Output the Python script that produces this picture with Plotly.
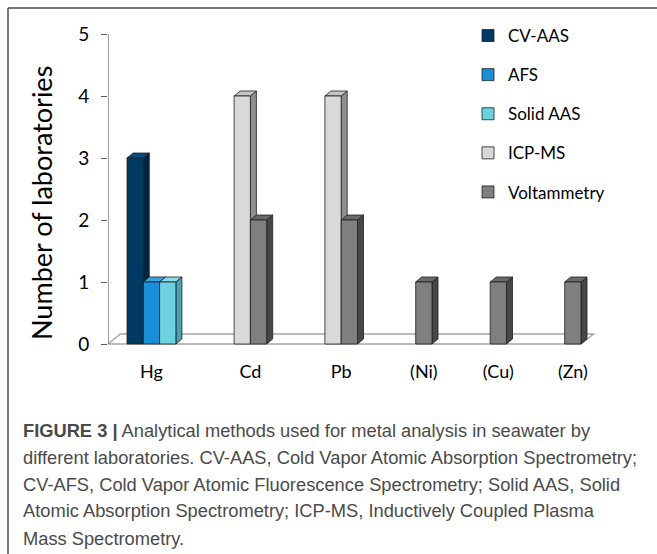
import plotly.graph_objects as go

# ---- data ----
categories = ["Hg", "Cd", "Pb", "(Ni)", "(Cu)", "(Zn)"]
series_names = ["CV-AAS", "AFS", "Solid AAS", "ICP-MS", "Voltammetry"]
cv_aas = [3, 0, 0, 0, 0, 0]
afs = [1, 0, 0, 0, 0, 0]
solid_aas = [1, 0, 0, 0, 0, 0]
icp_ms = [0, 4, 4, 0, 0, 0]
voltammetry = [0, 2, 2, 1, 1, 1]
y_ticks = [0, 1, 2, 3, 4, 5]
caption_lines = [
    "<b>FIGURE 3 |</b> Analytical methods used for metal analysis in seawater by",
    "different laboratories. CV-AAS, Cold Vapor Atomic Absorption Spectrometry;",
    "CV-AFS, Cold Vapor Atomic Fluorescence Spectrometry; Solid AAS, Solid",
    "Atomic Absorption Spectrometry; ICP-MS, Inductively Coupled Plasma",
    "Mass Spectrometry.",
]

series_values = [cv_aas, afs, solid_aas, icp_ms, voltammetry]

# ---- styles ----
front_cols = ["#003a63", "#1a8fd8", "#6dd1df", "#d9d9d9", "#7f7f7f"]
side_cols = ["#00233f", "#11649b", "#48a3b0", "#8f8f8f", "#474747"]
top_cols = ["#0b4a78", "#3aa2e2", "#8adbe6", "#c4c4c4", "#6a6a6a"]
edge = "#1e1e1e"
FONT = "Lato"

W_PX, H_PX = 657, 554
L, R = 108, 600          # plot area px
T, B = 26, 354
Y0PX, Y5PX = 344, 34
ppu_y = (Y0PX - Y5PX) / 5.0
bar_px = 16.3
gap_units = 58.2 / bar_px
lead_units = 19 / bar_px
x_range = [0, (R - L) / bar_px]
y_range = [-(B - Y0PX) / ppu_y, 5 + (Y5PX - T) / ppu_y]

depth_dx = 6 / bar_px
depth_dy = 5 / ppu_y
floor_dx = 12.5 / bar_px
floor_dy = 10 / ppu_y

# layout bars: each present value gets one slot, categories separated by a gap
cursor = lead_units
bar_pos = [[None] * len(categories) for _ in series_names]
centers = []
last_end = 0
for ci in range(len(categories)):
    start = cursor
    for si in range(len(series_names)):
        if series_values[si][ci] > 0:
            bar_pos[si][ci] = cursor + 0.5
            cursor += 1
    centers.append((start + cursor) / 2)
    last_end = cursor
    cursor += gap_units

fig = go.Figure()
shapes = []

# floor
fx = last_end
shapes.append(dict(type="path", xref="x", yref="y", layer="below",
                   path=f"M0,0 L{fx},0 L{fx+floor_dx},{floor_dy} L{floor_dx},{floor_dy} Z",
                   fillcolor="white", line=dict(color="#a6a6a6", width=1.5)))

# 3D faces (ordered left to right)
faces = []
for ci in range(len(categories)):
    for si in range(len(series_names)):
        xc = bar_pos[si][ci]
        if xc is None:
            continue
        v = series_values[si][ci]
        x0, x1 = xc - 0.5, xc + 0.5
        faces.append(dict(type="path", xref="x", yref="y", layer="below",
                          path=f"M{x1},0 L{x1+depth_dx},{depth_dy} L{x1+depth_dx},{v+depth_dy} L{x1},{v} Z",
                          fillcolor=side_cols[si], line=dict(color=edge, width=0.8)))
        faces.append(dict(type="path", xref="x", yref="y", layer="below",
                          path=f"M{x0},{v} L{x0+depth_dx},{v+depth_dy} L{x1+depth_dx},{v+depth_dy} L{x1},{v} Z",
                          fillcolor=top_cols[si], line=dict(color=edge, width=0.8)))
shapes += faces

for si, name in enumerate(series_names):
    xs = [bar_pos[si][ci] for ci in range(len(categories)) if bar_pos[si][ci] is not None]
    ys = [series_values[si][ci] for ci in range(len(categories)) if bar_pos[si][ci] is not None]
    fig.add_trace(go.Bar(x=xs, y=ys, width=1, name=name, legendgroup=name,
                         marker=dict(color=front_cols[si], line=dict(color=edge, width=0.8)),
                         hoverinfo="skip"))

# y axis line
shapes.append(dict(type="line", xref="x", yref="y", x0=0, x1=0, y0=0, y1=5,
                   line=dict(color="#595959", width=1.2)))


def px_x(p):
    return (p - L) / (R - L)


def px_y(p):
    return (B - p) / (B - T)


# frame
shapes.append(dict(type="line", xref="paper", yref="paper", x0=px_x(8), x1=px_x(660),
                   y0=px_y(8), y1=px_y(8), line=dict(color="#4a4a4a", width=1.5)))
shapes.append(dict(type="line", xref="paper", yref="paper", x0=px_x(8), x1=px_x(8),
                   y0=px_y(8), y1=px_y(560), line=dict(color="#4a4a4a", width=1.5)))

annotations = [dict(text="Number of laboratories", textangle=-90, xref="paper", yref="paper",
                    x=px_x(42), y=px_y(203), xanchor="center", yanchor="middle", showarrow=False,
                    font=dict(family=FONT, size=27, color="black"))]
for i, line in enumerate(caption_lines):
    annotations.append(dict(text=line, xref="paper", yref="paper", x=px_x(21), y=px_y(430 + 27 * i),
                            xanchor="left", yanchor="middle", showarrow=False,
                            font=dict(family="Liberation Sans", size=18.3, color="#4a4a4a")))

fig.update_layout(
    width=W_PX, height=H_PX,
    margin=dict(l=L, r=W_PX - R, t=T, b=H_PX - B, pad=0),
    paper_bgcolor="white", plot_bgcolor="white",
    barmode="overlay",
    shapes=shapes, annotations=annotations,
    showlegend=True,
    legend=dict(x=px_x(468), y=px_y(18), xanchor="left", yanchor="top",
                font=dict(family=FONT, size=17, color="black"),
                tracegroupgap=14, bgcolor="rgba(0,0,0,0)"),
    xaxis=dict(range=x_range, tickvals=centers, ticktext=categories, showgrid=False,
               zeroline=False, showline=False, ticks="", ticklabelstandoff=5,
               tickfont=dict(family=FONT, size=18, color="black"), fixedrange=True),
    yaxis=dict(range=y_range, tickvals=y_ticks, showgrid=False, zeroline=False, showline=False,
               ticks="outside", ticklen=6, tickcolor="#595959", tickwidth=1.2,
               ticklabelstandoff=8,
               tickfont=dict(family=FONT, size=19, color="black"), fixedrange=True),
)

# the page body has a default 8px margin; remove it so the figure fills the window
fig.write_html("out.html", config={"displayModeBar": False},
               post_script="document.body.style.margin='0';")
